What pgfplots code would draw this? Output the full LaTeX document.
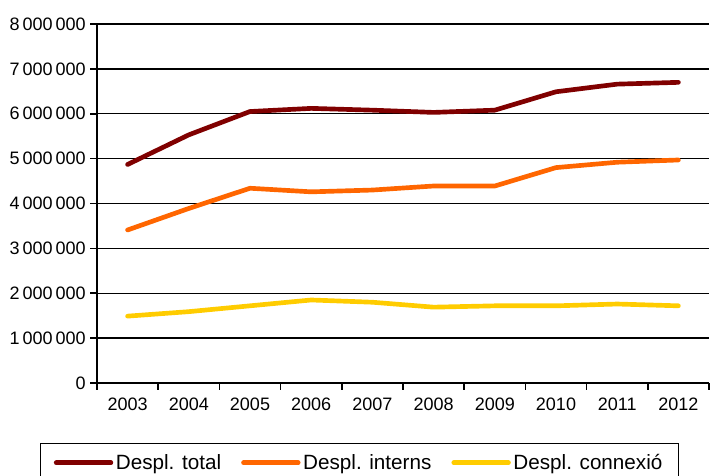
\documentclass[border=0pt]{standalone}
\usepackage{fontspec}
\setmainfont{Liberation Sans}
\usepackage{pgfplots}
\pgfplotsset{compat=1.18}
\definecolor{ctotal}{HTML}{800000}
\definecolor{cint}{HTML}{FF6600}
\definecolor{ccon}{HTML}{FFCC00}
\begin{document}
\begin{tikzpicture}
\begin{axis}[
  at={(0,0)}, anchor=south west,
  width=459pt, height=269.25pt, scale only axis,
  xmin=-0.5, xmax=9.5, ymin=0, ymax=8000000,
  axis lines=left, axis line style={-, line width=1.8pt},
  xtick={0,1,2,3,4,5,6,7,8,9},
  xticklabels={2003,2004,2005,2006,2007,2008,2009,2010,2011,2012},
  major x tick style={draw=none},
  minor xtick={-0.5,0.5,1.5,2.5,3.5,4.5,5.5,6.5,7.5,8.5,9.5},
  ytick={0,1000000,2000000,3000000,4000000,5000000,6000000,7000000,8000000},
  tick align=outside,
  tick style={black, line width=1.2pt},
  major tick length=5pt, minor tick length=5pt,
  ymajorgrids, grid style={black, line width=1pt},
  scaled y ticks=false,
  ticklabel style={font=\fontsize{13.5}{15}\selectfont},
  yticklabel style={/pgf/number format/.cd, fixed, 1000 sep={\,}, assume math mode=true},
  xticklabel style={yshift=-3pt},
  legend columns=3,
  legend style={at={(-0.0931,-0.1671)}, anchor=north west, draw=black, line width=0.8pt,
    font=\fontsize{15.5}{17}\selectfont, inner xsep=10pt, inner ysep=6pt,
    /tikz/every even column/.append style={column sep=13pt}},
  legend image code/.code={\draw[#1, line width=3.5pt, line cap=round] (0pt,0pt) -- (41pt,0pt);},
]
\addplot[ctotal, line width=3.5pt, line cap=round, line join=round] coordinates {
(0,4870000) (1,5530000) (2,6050000) (3,6120000) (4,6080000) (5,6030000) (6,6080000) (7,6490000) (8,6660000) (9,6700000)};
\addlegendentry{Despl. total}
\addplot[cint, line width=3.5pt, line cap=round, line join=round] coordinates {
(0,3410000) (1,3890000) (2,4340000) (3,4260000) (4,4300000) (5,4390000) (6,4390000) (7,4800000) (8,4920000) (9,4970000)};
\addlegendentry{Despl. interns}
\addplot[ccon, line width=3.5pt, line cap=round, line join=round] coordinates {
(0,1490000) (1,1590000) (2,1720000) (3,1850000) (4,1800000) (5,1690000) (6,1720000) (7,1720000) (8,1760000) (9,1720000)};
\addlegendentry{Despl. connexió}
\end{axis}
\pgfresetboundingbox
\path[use as bounding box] (-72.75pt,-69pt) rectangle (459.75pt,287.25pt);
\end{tikzpicture}
\end{document}
